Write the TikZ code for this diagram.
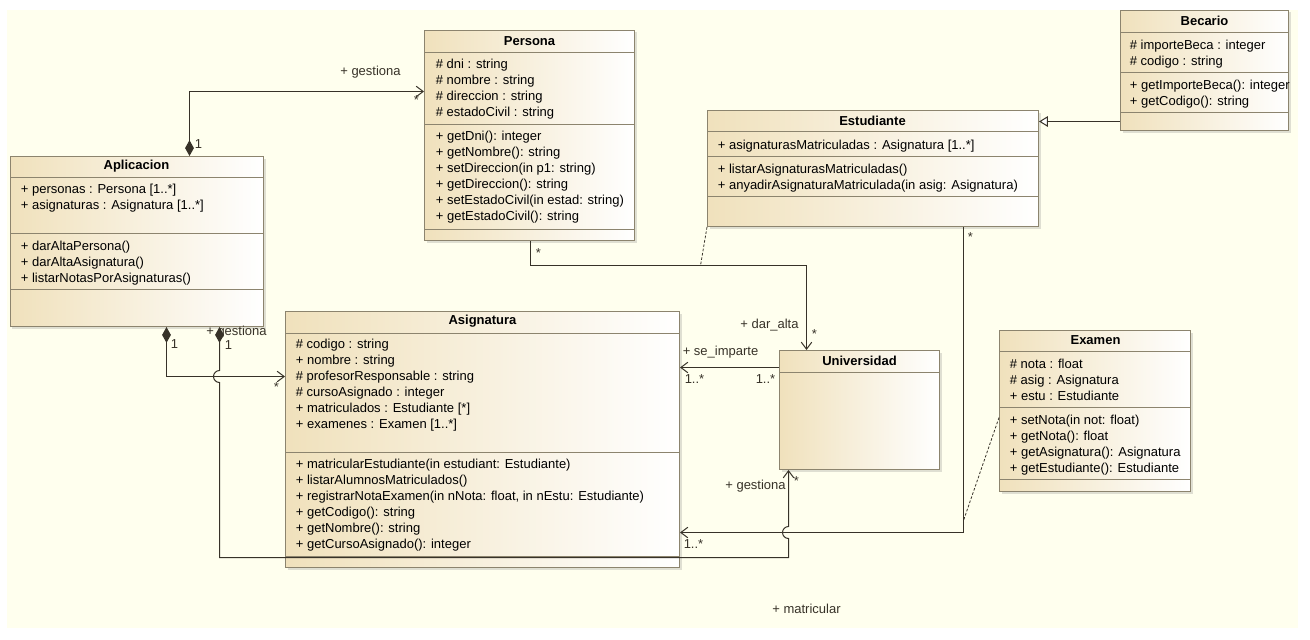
\documentclass[tikz,border=0pt]{standalone}
\usepackage{fontspec}
\setmainfont{Liberation Sans}
\usetikzlibrary{arrows.meta,fit,shadows}
\definecolor{ivory}{RGB}{255,255,238}
\definecolor{tanfill}{RGB}{240,225,188}
\definecolor{boxline}{RGB}{140,132,110}
\definecolor{wire}{RGB}{55,50,40}
\tikzset{
    classbox/.style={draw=boxline, left color=tanfill, right color=white, inner sep=0pt, line width=0.02cm,
        drop shadow={opacity=0.25, shadow xshift=0.04cm, shadow yshift=-0.04cm}},
    classname/.style={font=\bfseries\fontsize{7.4}{9}\selectfont, inner sep=0pt},
    members/.style={anchor=north west, align=left, font=\fontsize{7.4}{9.1}\selectfont, inner sep=0pt},
    divider/.style={draw=boxline, line width=0.02cm},
    lbl/.style={font=\fontsize{7.4}{9}\selectfont, inner sep=0pt, text=wire},
    assoc/.style={draw=wire, line width=0.02cm, -{Straight Barb[length=4pt,width=6pt]}},
    comp/.style={draw=wire, line width=0.02cm, {Diamond[length=9pt,width=5pt]}-{Straight Barb[length=4pt,width=6pt]}},
    inherit/.style={draw=wire, line width=0.02cm, -{Triangle[open,length=5pt,width=6pt,fill=white]}},
    aclass/.style={draw=wire, line width=0.45pt, dash pattern=on 1.5pt off 1pt},
}

\begin{document}
\begin{tikzpicture}[x=0.02cm, y=-0.02cm]
\fill[white] (0,0) rectangle (1310,639);
\useasboundingbox (0,0) rectangle (1310,639);
\fill[ivory] (7,10) rectangle (1298,628);
\begin{scope}[shift={(0.5,0.5)}]

% classes
\node[classbox, fit={(424,30) (634,240)}] (persona) {};
\node[classname] (personaT) at (529,41) {Persona};
\draw[divider] (424,52) -- (634,52);
\draw[divider] (424,124) -- (634,124);
\draw[divider] (424,229) -- (634,229);
\node[members] (personaA) at (435,58) {\# dni : string\\\# nombre : string\\\# direccion : string\\\# estadoCivil : string};
\node[members] (personaM) at (435,130) {+ getDni(): integer\\+ getNombre(): string\\+ setDireccion(in p1: string)\\+ getDireccion(): string\\+ setEstadoCivil(in estad: string)\\+ getEstadoCivil(): string};

\node[classbox, fit={(10,156) (263,326)}] (aplicacion) {};
\node[classname] (aplicacionT) at (136,166) {Aplicacion};
\draw[divider] (10,177) -- (263,177);
\draw[divider] (10,233) -- (263,233);
\draw[divider] (10,289) -- (263,289);
\node[members] (aplicacionA) at (20,183) {+ personas : Persona [1..*]\\+ asignaturas : Asignatura [1..*]};
\node[members] (aplicacionM) at (20,240) {+ darAltaPersona()\\+ darAltaAsignatura()\\+ listarNotasPorAsignaturas()};

\node[classbox, fit={(285,311) (679,567)}] (asignatura) {};
\node[classname] (asignaturaT) at (482,321) {Asignatura};
\draw[divider] (285,333) -- (679,333);
\draw[divider] (285,452) -- (679,452);
\draw[divider] (285,556) -- (679,556);
\node[members] (asignaturaA) at (295,338) {\# codigo : string\\+ nombre : string\\\# profesorResponsable : string\\\# cursoAsignado : integer\\+ matriculados : Estudiante [*]\\+ examenes : Examen [1..*]};
\node[members] (asignaturaM) at (295,458) {+ matricularEstudiante(in estudiant: Estudiante)\\+ listarAlumnosMatriculados()\\+ registrarNotaExamen(in nNota: float, in nEstu: Estudiante)\\+ getCodigo(): string\\+ getNombre(): string\\+ getCursoAsignado(): integer};

\node[classbox, fit={(707,110) (1038,226)}] (estudiante) {};
\node[classname] (estudianteT) at (872,120) {Estudiante};
\draw[divider] (707,131) -- (1038,131);
\draw[divider] (707,156) -- (1038,156);
\draw[divider] (707,196) -- (1038,196);
\node[members] (estudianteA) at (717,139) {+ asignaturasMatriculadas : Asignatura [1..*]};
\node[members] (estudianteM) at (717,163) {+ listarAsignaturasMatriculadas()\\+ anyadirAsignaturaMatriculada(in asig: Asignatura)};

\node[classbox, fit={(1120,10) (1288,130)}] (becario) {};
\node[classname] (becarioT) at (1204,20) {Becario};
\draw[divider] (1120,32) -- (1288,32);
\draw[divider] (1120,72) -- (1288,72);
\draw[divider] (1120,112) -- (1288,112);
\node[members] (becarioA) at (1129,39) {\# importeBeca : integer\\\# codigo : string};
\node[members] (becarioM) at (1129,79) {+ getImporteBeca(): integer\\+ getCodigo(): string};

\node[classbox, fit={(779,350) (939,469)}] (universidad) {};
\node[classname] (universidadT) at (859,360) {Universidad};
\draw[divider] (779,372) -- (939,372);

\node[classbox, fit={(999,330) (1190,491)}] (examen) {};
\node[classname] (examenT) at (1095,340) {Examen};
\draw[divider] (999,351) -- (1190,351);
\draw[divider] (999,407) -- (1190,407);
\draw[divider] (999,479) -- (1190,479);
\node[members] (examenA) at (1009,358) {\# nota : float\\\# asig : Asignatura\\+ estu : Estudiante};
\node[members] (examenM) at (1009,414) {+ setNota(in not: float)\\+ getNota(): float\\+ getAsignatura(): Asignatura\\+ getEstudiante(): Estudiante};

% relations
\draw[comp] (aplicacion.north -| 189,0) -- (189,91) -- (persona.west |- 0,91);
\draw[comp] (aplicacion.south -| 166,0) -- (166,376) -- (asignatura.west |- 0,376);
\draw[comp] (aplicacion.south -| 219,0) -- (219,370) arc[start angle=90, end angle=270, radius=0.12cm]
    -- (219,557) -- (788,557) -- (788,538) arc[start angle=-90, end angle=-270, radius=0.12cm]
    -- (universidad.south -| 788,0);
\draw[assoc] (persona.south -| 530,0) -- (530,265) -- (806,265) -- (universidad.north -| 806,0);
\draw[assoc] (universidad.west |- 0,367) -- (asignatura.east |- 0,367);
\draw[assoc] (estudiante.south -| 963,0) -- (963,532) -- (asignatura.east |- 0,532);
\draw[inherit] (becario.west |- 0,121) -- (estudiante.east |- 0,121);
\coordinate (daralta) at (700,265);
\coordinate (matricular) at (963,520);
\draw[aclass] (estudiante.south west) -- (daralta);
\draw[aclass] (examen.west |- 0,417) -- (matricular);

% labels
\node[lbl] (l1) at (370,72) {+ gestiona};
\node[lbl] (l2) at (416,100) {*};
\node[lbl] (l3) at (198,144) {1};
\node[lbl] (l4) at (174,344) {1};
\node[lbl] (l5) at (236,332) {+ gestiona};
\node[lbl] (l6) at (228,345) {1};
\node[lbl] (l7) at (276,387) {*};
\node[lbl] (l8) at (538,253) {*};
\node[lbl] (l9) at (769,325) {+ dar\_alta};
\node[lbl] (l10) at (814,334) {*};
\node[lbl] (l11) at (720,352) {+ se\_imparte};
\node[lbl] (l12) at (694,379) {1..*};
\node[lbl] (l13) at (765,379) {1..*};
\node[lbl] (l14) at (970,237) {*};
\node[lbl] (l15) at (755,486) {+ gestiona};
\node[lbl] (l16) at (796,481) {*};
\node[lbl] (l17) at (693,544) {1..*};
\node[lbl] (l18) at (806,608) {+ matricular};
\end{scope}
\end{tikzpicture}
\end{document}
